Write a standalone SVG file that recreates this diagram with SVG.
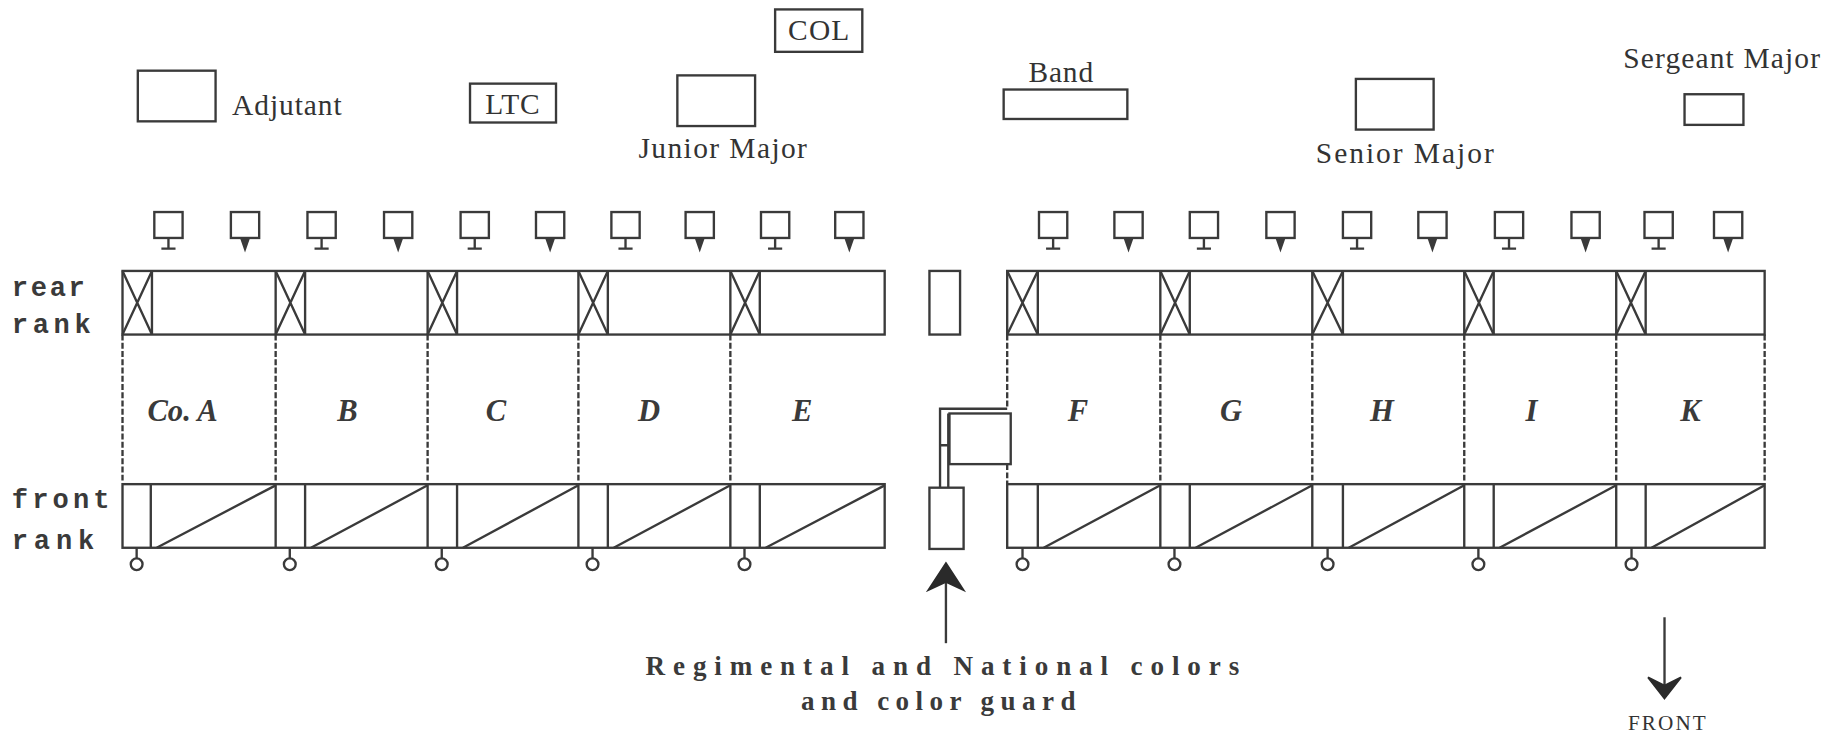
<svg xmlns="http://www.w3.org/2000/svg" width="1847" height="740" viewBox="0 0 1847 740">
<style>
.s{fill:none;stroke:#3a3a3a;stroke-width:2}
.d{fill:none;stroke:#3a3a3a;stroke-width:2;stroke-dasharray:5 2}
.t{font-family:"Liberation Serif",serif;fill:#333;font-size:25px}
.co{font-family:"Liberation Serif",serif;font-style:italic;font-weight:bold;fill:#3a3a3a;font-size:26px;text-anchor:middle}
.m{font-family:"Liberation Mono",monospace;font-weight:bold;fill:#3a3a3a;font-size:23px}
.b{font-family:"Liberation Serif",serif;font-weight:bold;fill:#3a3a3a;font-size:23px}
</style>
<defs>
<g id="iconT"><rect class="s" x="-12" y="180" width="24" height="22"/><path class="s" d="M0 202V211M-6 211H6"/></g>
<g id="iconP"><rect class="s" x="-12" y="180" width="24" height="22"/><path d="M-3.5 202L3.5 202L0 212Z" fill="#3a3a3a" stroke="#3a3a3a" stroke-width="1.5"/></g>
</defs>
<rect width="1847" height="740" fill="#fff"/>
<g transform="scale(1.178)">
<g id="staff">
<g id="col"><rect class="s" x="658" y="8" width="74" height="36"/><text class="t" x="695" y="34" text-anchor="middle" textLength="52">COL</text></g>
<g id="adjutant"><rect class="s" x="117" y="60" width="66" height="43"/><text class="t" x="197" y="98" textLength="93">Adjutant</text></g>
<g id="ltc"><rect class="s" x="399" y="71" width="73" height="33"/><text class="t" x="435" y="97" text-anchor="middle" textLength="46">LTC</text></g>
<g id="junior-major"><rect class="s" x="575" y="64" width="66" height="43"/><text class="t" x="542" y="134" textLength="143">Junior Major</text></g>
<g id="band"><text class="t" x="873" y="70" textLength="55">Band</text><rect class="s" x="852" y="76" width="105" height="25"/></g>
<g id="senior-major"><rect class="s" x="1151" y="67" width="66" height="43"/><text class="t" x="1117" y="138" textLength="151">Senior Major</text></g>
<g id="sergeant-major"><text class="t" x="1378" y="58" textLength="167">Sergeant Major</text><rect class="s" x="1430" y="80" width="50" height="26"/></g>
</g>
<g id="file-closers">
<use href="#iconT" x="143"/><use href="#iconP" x="208"/><use href="#iconT" x="273"/><use href="#iconP" x="338"/><use href="#iconT" x="403"/><use href="#iconP" x="467"/><use href="#iconT" x="531"/><use href="#iconP" x="594"/><use href="#iconT" x="658"/><use href="#iconP" x="721"/>
<use href="#iconT" x="894"/><use href="#iconP" x="958"/><use href="#iconT" x="1022"/><use href="#iconP" x="1087"/><use href="#iconT" x="1152"/><use href="#iconP" x="1216"/><use href="#iconT" x="1281"/><use href="#iconP" x="1346"/><use href="#iconT" x="1408"/><use href="#iconP" x="1467"/>
</g>
<g id="rank-labels">
<text class="m" x="10" y="251" textLength="62">rear</text>
<text class="m" x="10" y="283" textLength="67">rank</text>
<text class="m" x="10" y="431" textLength="83">front</text>
<text class="m" x="10" y="466" textLength="70">rank</text>
</g>
<g id="rear-rank">
<rect class="s" x="104" y="230" width="647" height="54"/>
<rect class="s" x="855" y="230" width="643" height="54"/>
<path class="s" d="M234 230V284M363 230V284M491 230V284M620 230V284M985 230V284M1114 230V284M1243 230V284M1372 230V284"/>
<path class="s" d="M129 230V284M259 230V284M388 230V284M516 230V284M645 230V284M881 230V284M1010 230V284M1140 230V284M1268 230V284M1397 230V284"/>
<path class="s" d="M104 230L129 284M129 230L104 284M234 230L259 284M259 230L234 284M363 230L388 284M388 230L363 284M491 230L516 284M516 230L491 284M620 230L645 284M645 230L620 284M855 230L881 284M881 230L855 284M985 230L1010 284M1010 230L985 284M1114 230L1140 284M1140 230L1114 284M1243 230L1268 284M1268 230L1243 284M1372 230L1397 284M1397 230L1372 284"/>
</g>
<g id="company-dividers">
<path class="d" d="M104 284V410M234 284V410M363 284V410M491 284V410M620 284V410M985 284V410M1114 284V410M1243 284V410M1372 284V410M1498 284V410M855 284V346M855 394V410"/>
</g>
<g id="companies">
<text class="co" x="155" y="357">Co. A</text>
<text class="co" x="295" y="357">B</text>
<text class="co" x="421" y="357">C</text>
<text class="co" x="551" y="357">D</text>
<text class="co" x="681" y="357">E</text>
<text class="co" x="915" y="357">F</text>
<text class="co" x="1045" y="357">G</text>
<text class="co" x="1173" y="357">H</text>
<text class="co" x="1300" y="357">I</text>
<text class="co" x="1435" y="357">K</text>
</g>
<g id="front-rank">
<rect class="s" x="104" y="411" width="647" height="54"/>
<rect class="s" x="855" y="411" width="643" height="54"/>
<path class="s" d="M234 411V465M363 411V465M491 411V465M620 411V465M985 411V465M1114 411V465M1243 411V465M1372 411V465"/>
<path class="s" d="M128 411V465M259 411V465M388 411V465M516 411V465M645 411V465M881 411V465M1010 411V465M1140 411V465M1268 411V465M1397 411V465"/>
<path class="s" d="M133 465L234 412M264 465L363 412M393 465L491 412M521 465L620 412M650 465L751 412M886 465L985 412M1015 465L1114 412M1145 465L1243 412M1273 465L1372 412M1402 465L1498 412"/>
</g>
<g id="guides">
<path class="s" d="M116 465V474M246 465V474M375 465V474M503 465V474M632 465V474M868 465V474M997 465V474M1127 465V474M1255 465V474M1385 465V474"/>
<circle class="s" cx="116" cy="479" r="5"/><circle class="s" cx="246" cy="479" r="5"/><circle class="s" cx="375" cy="479" r="5"/><circle class="s" cx="503" cy="479" r="5"/><circle class="s" cx="632" cy="479" r="5"/>
<circle class="s" cx="868" cy="479" r="5"/><circle class="s" cx="997" cy="479" r="5"/><circle class="s" cx="1127" cy="479" r="5"/><circle class="s" cx="1255" cy="479" r="5"/><circle class="s" cx="1385" cy="479" r="5"/>
</g>
<g id="colors">
<rect class="s" x="789" y="230" width="26" height="54"/>
<rect class="s" x="789" y="414" width="29" height="52"/>
<path class="s" d="M798 414V347H855M805 414V351M798 378H805"/>
<rect class="s" x="806" y="351" width="52" height="43"/>
</g>
<g id="connectors">
<path class="s" d="M803 546V492"/>
<path d="M803 478L818 501L803 494L788 501Z" fill="#2a2a2a" stroke="#2a2a2a" stroke-width="1.5"/>
<path class="s" d="M1413 524V582"/>
<path d="M1413 593L1427 575L1413 582L1399 575Z" fill="#2a2a2a" stroke="#2a2a2a" stroke-width="1.5"/>
</g>
<g id="captions">
<text class="b" x="548" y="573" textLength="504" lengthAdjust="spacing">Regimental and National colors</text>
<text class="b" x="680" y="603" textLength="233" lengthAdjust="spacing">and color guard</text>
<text class="t" x="1382" y="620" style="font-size:18px" textLength="66">FRONT</text>
</g>
</g>
</svg>
